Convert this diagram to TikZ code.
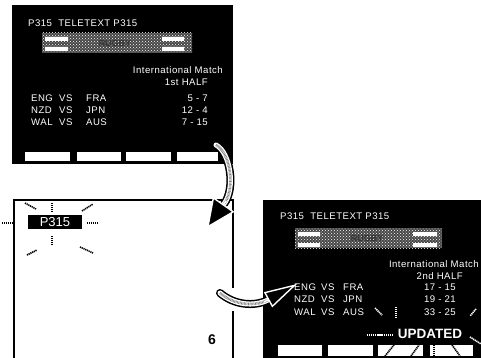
\documentclass[tikz,border=0pt]{standalone}
\usepackage{fontspec}
\setmainfont{Liberation Sans}
\newfontfamily\txfont[LetterSpace=5]{Liberation Sans}
\usetikzlibrary{arrows.meta, patterns}

\begin{document}
\begin{tikzpicture}[x=1pt, y=-1pt,
    tx/.style={text=white, inner sep=0pt, font=\txfont\fontsize{9.6}{10}\selectfont},
    stip/.style={preaction={fill=black!72}, pattern=crosshatch dots, pattern color=white},
    bar/.style={fill=white},
    ray/.style={line width=1.6pt, dash pattern=on 1.2pt off 0.7pt},
    bandout/.style={line width=8pt, line cap=round},
    bandin/.style={line width=5pt, white, line cap=round},
    banddot/.style={line width=2.6pt, black!50, dash pattern=on 0.7pt off 0.7pt},
    head/.style={white, line width=1.4pt}]
  \useasboundingbox (0,0) rectangle (481,358);

  % first screen
  \fill (12,5) rectangle (233,164);
  \fill[stip] (42,33) rectangle (192,53);
  \fill[bar] (45,37) rectangle (68,41) (45,47) rectangle (68,51)
    (162,37) rectangle (184,41) (162,47) rectangle (184,51);
  \node[text=black!80, font=\bfseries\fontsize{9}{9}\selectfont] (s1-ban) at (115,43) {RUGBY};
  \node[tx, anchor=west] (s1-hd) at (28,23) {P315\ \ TELETEXT P315};
  \node[tx, anchor=east] (s1-m) at (223,70) {International Match};
  \node[tx, anchor=east] (s1-h) at (208,82) {1st HALF};
  \foreach \ta/\tb/\sc [count=\i] in {ENG/FRA/5 - 7, NZD/JPN/12 - 4, WAL/AUS/7 - 15} {
    \node[tx, anchor=west] (s1-a\i) at (31,86+12*\i) {\ta};
    \node[tx, anchor=west] (s1-v\i) at (59,86+12*\i) {VS};
    \node[tx, anchor=west] (s1-b\i) at (86,86+12*\i) {\tb};
    \node[tx, anchor=east] (s1-s\i) at (208,86+12*\i) {\sc};
  }
  \foreach \xa/\xb in {25/70, 77/121, 126/171, 177/218}
    \fill[bar] (\xa,152) rectangle (\xb,161);

  % second screen, page number flashing
  \draw[line width=2pt] (14,358) -- (14,200) -- (234,200);
  \draw[line width=2pt] (233,200) -- (233,288) (233,311) -- (233,358);
  \node[fill=black, text=white, inner sep=0pt, minimum width=54, minimum height=14,
    font=\fontsize{13}{13}\selectfont] (pg) at (55,222) {P315};
  \foreach \p/\q in {{(2,223)}/{(13,223)}, {(87,223)}/{(98,223)}, {(52,203)}/{(52,212)},
      {(52,236)}/{(52,245)}, {(25,203)}/{(36,209)}, {(82,211)}/{(93,204)},
      {(27,255)}/{(37,250)}, {(80,247)}/{(93,253)}}
    \draw[ray] \p -- \q;
  \node[font=\bfseries\fontsize{14}{14}\selectfont] (num) at (212,340) {6};

  % third screen
  \fill (263,200) rectangle (481,358);
  \fill[stip] (295,228) rectangle (442,248);
  \fill[bar] (298,232) rectangle (320,236) (298,243) rectangle (320,247)
    (413,232) rectangle (437,236) (413,243) rectangle (437,247);
  \node[text=black!80, font=\bfseries\fontsize{9}{9}\selectfont] (s3-ban) at (367,238) {RUGBY};
  \node[tx, anchor=west] (s3-hd) at (280,216) {P315\ \ TELETEXT P315};
  \node[tx, anchor=east] (s3-m) at (479,264) {International Match};
  \node[tx, anchor=east] (s3-h) at (463,276) {2nd HALF};
  \foreach \ta/\tb/\sc [count=\i] in {ENG/FRA/17 - 15, NZD/JPN/19 - 21, WAL/AUS/33 - 25} {
    \node[tx, anchor=west] (s3-a\i) at (294,274.5+12.5*\i) {\ta};
    \node[tx, anchor=west] (s3-v\i) at (321,274.5+12.5*\i) {VS};
    \node[tx, anchor=west] (s3-b\i) at (343,274.5+12.5*\i) {\tb};
    \node[tx, anchor=east] (s3-s\i) at (456,274.5+12.5*\i) {\sc};
  }
  \node[text=white, inner sep=0pt, font=\bfseries\fontsize{13.5}{13.5}\selectfont] (upd) at (430,334) {UPDATED};
  \foreach \xa/\xb in {278/322, 328/373, 378/423, 430/473}
    \fill[bar] (\xa,345) rectangle (\xb,356);
  \foreach \p/\q in {{(375,308)}/{(382,315)}, {(396,307)}/{(396,317)}, {(476,309)}/{(470,316)},
      {(367,335)}/{(392,335)}, {(470,337)}/{(481,344)}}
    \draw[ray, white] \p -- \q;
  \foreach \p/\q in {{(385,356)}/{(394,345)}, {(411,356)}/{(419,345)},
      {(434,345)}/{(434,356)}, {(452,345)}/{(460,356)}}
    \draw[ray] \p -- \q;

  % arrows between the screens
  \coordinate (a1s) at (216,145);
  \coordinate (a1b) at (224,204);
  \coordinate (a1c) at (226,201);
  \coordinate (a1t) at (207,228);
  \draw[bandout] (a1s) .. controls (230,152) and (236,188) .. (a1b);
  \draw[bandin] (a1s) .. controls (230,152) and (236,188) .. (a1b);
  \draw[banddot] (a1s) .. controls (230,152) and (236,188) .. (a1b);
  \draw[head, -{Triangle[length=29pt 0, width=26pt 0, fill=black]}] (a1c) -- (a1t);

  \coordinate (a2s) at (220,293);
  \coordinate (a2b) at (268,300);
  \coordinate (a2c) at (264,302);
  \coordinate (a2t) at (297,284);
  \draw[bandout] (a2s) .. controls (234,305) and (254,307) .. (a2b);
  \draw[bandin] (a2s) .. controls (234,305) and (254,307) .. (a2b);
  \draw[banddot] (a2s) .. controls (234,305) and (254,307) .. (a2b);
  \draw[head, -{Triangle[length=33pt 0, width=17pt 0, fill=black]}] (a2c) -- (a2t);
\end{tikzpicture}
\end{document}
